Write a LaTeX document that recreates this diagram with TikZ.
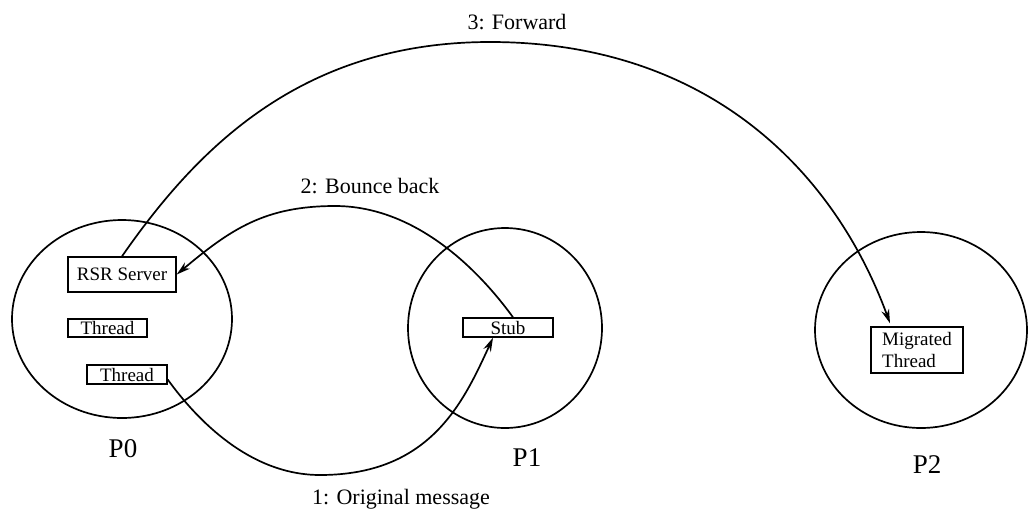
\documentclass[tikz,border=0pt]{standalone}
\usepackage{fontspec}
\setmainfont{Liberation Serif}
\usetikzlibrary{arrows.meta,shapes.geometric}
\tikzset{
  proc/.style={draw, ellipse, line width=1.7pt, inner sep=0pt},
  box/.style={draw, line width=1.4pt, inner sep=0pt, font=\fontsize{19}{22}\selectfont},
  lowtext/.style={text depth=3pt, text height=15pt},
  lbl/.style={font=\fontsize{22}{26}\selectfont, anchor=base, inner sep=0pt},
  plbl/.style={font=\fontsize{27}{30}\selectfont, anchor=base, inner sep=0pt},
  msg/.style={line width=1.7pt, -{Stealth[length=14pt,width=8pt]}},
}
\begin{document}
\begin{tikzpicture}[x=1pt,y=-1pt]
\useasboundingbox (0,0) rectangle (1028,515);
% processes
\node[proc, minimum width=220pt, minimum height=198pt] (p0c) at (122,319) {};
\node[proc, minimum width=194pt, minimum height=200pt] (p1c) at (505,328) {};
\node[proc, minimum width=212pt, minimum height=196pt] (p2c) at (921,330) {};
% boxes
\node[box, minimum width=108pt, minimum height=35pt] (rsr) at (122,274.5) {RSR Server};
\node[box, minimum width=79pt, minimum height=18pt] (t1) at (107.5,328) {Thread};
\node[box, minimum width=80pt, minimum height=19pt] (t2) at (127,374.5) {Thread};
\node[box, minimum width=90pt, minimum height=19pt] (stub) at (508,327.5) {Stub};
\node[box, minimum width=92pt, minimum height=46pt, align=left] (mig) at (917,350) {Migrated\\Thread};
% labels
\node[plbl] (l0) at (123,457) {P0};
\node[plbl] (l1) at (527,466) {P1};
\node[plbl] (l2) at (927,473) {P2};
\node[lbl] (m3) at (517,29) {3: Forward};
\node[lbl] (m2) at (370,193) {2: Bounce back};
\node[lbl] (m1) at (401,504) {1: Original message};
% messages
\draw[msg] ([yshift=-5pt]t2.east) .. controls (197,420) and (250,475) .. (320,475)
  .. controls (430,475) and (463,403) .. ([xshift=-15pt]stub.south);
\draw[msg] ([xshift=5pt]stub.north) .. controls (478,269) and (415,206) .. (335,206)
  .. controls (265,206) and (231,229) .. (rsr.east);
\draw[msg] (rsr.north) .. controls (196,150) and (300,42) .. (490,42)
  .. controls (710,42) and (835,173) .. ([xshift=-27pt,yshift=3pt]mig.north);
\end{tikzpicture}
\end{document}
